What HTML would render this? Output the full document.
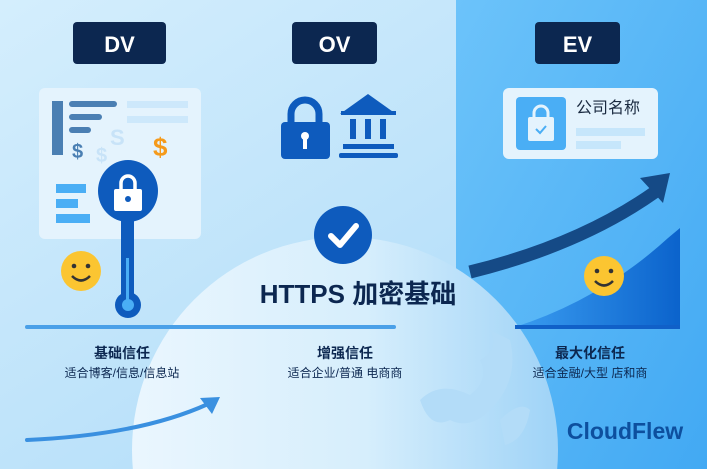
<!DOCTYPE html>
<html><head><meta charset="utf-8"><style>
html,body{margin:0;padding:0;width:707px;height:469px;overflow:hidden;font-family:"Liberation Sans","Noto Sans CJK SC",sans-serif}
svg{display:block}
</style></head><body>
<svg width="707" height="469" viewBox="0 0 707 469" xmlns="http://www.w3.org/2000/svg" font-family="Liberation Sans, Noto Sans CJK SC, sans-serif">
<defs>
<linearGradient id="bg" x1="0" y1="0" x2="1" y2="1"><stop offset="0" stop-color="#d4eefd"/><stop offset="1" stop-color="#a8d8f7"/></linearGradient>
<linearGradient id="rp" x1="0" y1="0" x2="1" y2="1"><stop offset="0" stop-color="#6cc3fa"/><stop offset="1" stop-color="#42a9f3"/></linearGradient>
<linearGradient id="gl" x1="0" y1="0" x2="1" y2="0"><stop offset="0" stop-color="#eaf6fe"/><stop offset="0.55" stop-color="#d6eefc"/><stop offset="1" stop-color="#9fd3f7"/></linearGradient>
<linearGradient id="ch" x1="0" y1="0" x2="1" y2="0"><stop offset="0" stop-color="#3a9cf0"/><stop offset="1" stop-color="#0b63cc"/></linearGradient>
</defs>
<rect width="707" height="469" fill="url(#bg)"/>
<rect x="456" width="251" height="469" fill="url(#rp)"/>
<path d="M515 327 Q600 300 668 238 L680 228 L680 327 Z" fill="url(#ch)"/>
<path d="M470 272 Q580 245 655 192" stroke="#154a86" stroke-width="13" fill="none"/>
<path d="M640 178 L670 173 L663 203 Z" fill="#154a86"/>
<circle cx="345" cy="450" r="213" fill="url(#gl)"/>
<path d="M420 400 Q440 380 470 395 Q490 380 480 360 Q500 350 490 330 L510 340 Q520 380 490 410 Q470 430 450 420 Q430 430 420 400Z" fill="#b3dcf8"/>
<path d="M500 420 Q520 400 530 410 Q525 440 505 445Z" fill="#b3dcf8"/>
<rect x="25" y="325" width="371" height="4" rx="2" fill="#4aa0e8"/>
<rect x="515" y="325" width="165" height="4" fill="#1060c8"/>
<rect x="73" y="22" width="93" height="42" rx="4" fill="#0c2750"/>
<text x="119.5" y="52" text-anchor="middle" fill="#fff" font-size="22" font-weight="bold">DV</text>
<rect x="292" y="22" width="85" height="42" rx="4" fill="#0c2750"/>
<text x="334.5" y="52" text-anchor="middle" fill="#fff" font-size="22" font-weight="bold">OV</text>
<rect x="535" y="22" width="85" height="42" rx="4" fill="#0c2750"/>
<text x="577.5" y="52" text-anchor="middle" fill="#fff" font-size="22" font-weight="bold">EV</text>
<rect x="39" y="88" width="162" height="151" rx="6" fill="#e4f3fd"/>
<rect x="52" y="101" width="11" height="54" fill="#4a7fb3"/>
<rect x="69" y="101" width="48" height="6" rx="3" fill="#4a7fb3"/>
<rect x="69" y="114" width="33" height="6" rx="3" fill="#4a7fb3"/>
<rect x="69" y="127" width="22" height="6" rx="3" fill="#4a7fb3"/>
<rect x="127" y="101" width="61" height="7" fill="#cde8fb"/>
<rect x="127" y="116" width="61" height="7" fill="#cde8fb"/>
<text x="72" y="158" font-size="20" font-weight="bold" fill="#4a7fb3">$</text>
<text x="96" y="162" font-size="20" font-weight="bold" fill="#c8e3f8">$</text>
<text x="110" y="145" font-size="22" font-weight="bold" fill="#c8e3f8">S</text>
<text x="153" y="156" font-size="26" font-weight="bold" fill="#f59a1b">$</text>
<rect x="56" y="184" width="30" height="9" fill="#4aaef5"/>
<rect x="56" y="199" width="22" height="9" fill="#4aaef5"/>
<rect x="56" y="214" width="34" height="9" fill="#4aaef5"/>
<rect x="121" y="215" width="13" height="85" fill="#0e5bbd"/>
<circle cx="128" cy="305" r="13" fill="#0e5bbd"/><circle cx="128" cy="305" r="6" fill="#4aaef5"/>
<rect x="126" y="258" width="3" height="42" fill="#4aaef5"/>
<ellipse cx="128" cy="191" rx="30" ry="31" fill="#0e5bbd"/>
<path d="M121 190 v-7 a7 7 0 0 1 14 0 v7" stroke="#fff" stroke-width="3.5" fill="none"/>
<rect x="114" y="189" width="28" height="22" rx="2" fill="#fff"/>
<circle cx="128" cy="199" r="3" fill="#0e5bbd"/>
<g><circle cx="81" cy="271" r="20" fill="#fbc531"/><circle cx="74" cy="266" r="2.3" fill="#333"/><circle cx="88" cy="266" r="2.3" fill="#333"/><path d="M72 276 Q81 285 90 276" stroke="#333" stroke-width="2.5" fill="none"/></g>
<g><circle cx="604" cy="276" r="20" fill="#fbc531"/><circle cx="597" cy="271" r="2.3" fill="#333"/><circle cx="611" cy="271" r="2.3" fill="#333"/><path d="M595 281 Q604 290 613 281" stroke="#333" stroke-width="2.5" fill="none"/></g>
<path d="M291 125 v-11 a14 14 0 0 1 28 0 v11" stroke="#0e5bbd" stroke-width="7" fill="none"/>
<rect x="281" y="122" width="49" height="37" rx="4" fill="#0e5bbd"/>
<circle cx="305" cy="136" r="4" fill="#fff"/><rect x="303" y="136" width="4" height="13" fill="#fff"/>
<path d="M340 114 L368 94 L396 114 Z" fill="#0e5bbd"/>
<rect x="341" y="111" width="55" height="4" fill="#0e5bbd"/>
<rect x="350" y="119" width="6" height="20" fill="#0e5bbd"/><rect x="365" y="119" width="6" height="20" fill="#0e5bbd"/><rect x="380" y="119" width="6" height="20" fill="#0e5bbd"/>
<rect x="343" y="144" width="51" height="5" fill="#0e5bbd"/>
<rect x="339" y="153" width="59" height="5" rx="2" fill="#0e5bbd"/>
<rect x="503" y="88" width="155" height="71" rx="6" fill="#e4f3fd"/>
<rect x="516" y="97" width="50" height="53" rx="4" fill="#4aaef5"/>
<path d="M534 118 v-5 a7 7 0 0 1 14 0 v5" stroke="#e4f3fd" stroke-width="3" fill="none"/>
<rect x="528" y="117" width="26" height="24" rx="2" fill="#e4f3fd"/>
<path d="M536 129 l4 4 l6 -7" stroke="#4aaef5" stroke-width="2" fill="none"/>
<text x="576" y="113" font-size="16" fill="#1a2a40">公司名称</text>
<rect x="576" y="128" width="69" height="8" fill="#c6e6fb"/>
<rect x="576" y="141" width="45" height="8" fill="#c6e6fb"/>
<circle cx="343" cy="235" r="29" fill="#0e5bbd"/>
<path d="M331 236 l9 9 l16 -19" stroke="#fff" stroke-width="6" fill="none" stroke-linecap="round" stroke-linejoin="round"/>
<text x="358" y="303" text-anchor="middle" font-size="26" font-weight="bold" fill="#0c2750">HTTPS 加密基础</text>
<text x="122" y="358" text-anchor="middle" font-size="14" font-weight="bold" fill="#0c2750">基础信任</text>
<text x="122" y="377" text-anchor="middle" font-size="12" fill="#0c2750">适合博客/信息/信息站</text>
<text x="345" y="358" text-anchor="middle" font-size="14" font-weight="bold" fill="#0c2750">增强信任</text>
<text x="345" y="377" text-anchor="middle" font-size="12" fill="#0c2750">适合企业/普通 电商商</text>
<text x="590" y="358" text-anchor="middle" font-size="14" font-weight="bold" fill="#0c2750">最大化信任</text>
<text x="590" y="377" text-anchor="middle" font-size="12" fill="#0c2750">适合金融/大型 店和商</text>
<path d="M27 440 Q140 435 208 404" stroke="#3a90e0" stroke-width="4" fill="none" stroke-linecap="round"/>
<path d="M200 398 L220 397 L212 414 Z" fill="#3a90e0"/>
<text x="625" y="439" text-anchor="middle" font-size="23" font-weight="bold" fill="#0d4f9e">CloudFlew</text>
</svg>
</body></html>
